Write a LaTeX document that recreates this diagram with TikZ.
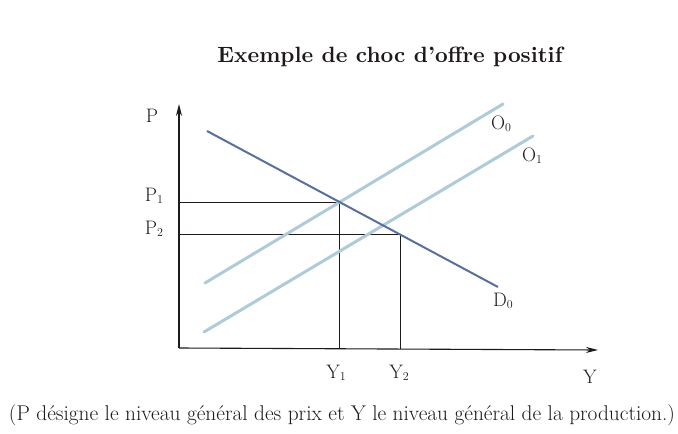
\documentclass[tikz,border=0pt]{standalone}
\usepackage{graphicx}
\usetikzlibrary{arrows.meta}
\definecolor{demand}{RGB}{88,112,155}
\definecolor{offer}{RGB}{175,203,218}
\definecolor{ink}{RGB}{30,26,26}
\newcommand\sbs[1]{\raisebox{-0.2ex}{\fontsize{12}{13}\selectfont #1}}
\begin{document}
\begin{tikzpicture}[x=1pt,y=-1pt,
  lbl/.style={inner sep=0pt,text=ink,font=\fontsize{19.5}{21}\selectfont},
  axis/.style={draw=ink,line width=1.1pt,-{Stealth[length=12pt,width=6pt]}},
  guide/.style={draw=ink,line width=0.95pt},
  dem/.style={draw=demand,line width=2pt},
  off/.style={draw=offer,line width=3pt,line cap=round}]
\useasboundingbox[fill=white] (0,0) rectangle (678,434);
% title
\node[lbl,font=\bfseries] (title) at (390,57) {\resizebox{345pt}{!}{Exemple de choc d'offre positif}};
% axes
\coordinate (o) at (179,348);
\coordinate (ptop) at (179,104);
\coordinate (yend) at (598,350);
\draw[axis] (o) -- (ptop);
\draw[axis] (o) -- (yend);
% key points
\coordinate (e1) at (339,202);
\coordinate (e2) at (400,234);
\coordinate (p1) at (179,202);
\coordinate (p2) at (179,234);
\coordinate (y1) at (339,348);
\coordinate (y2) at (400,349);
\draw[guide] (p1) -- (e1) -- (y1);
\draw[guide] (p2) -- (e2) -- (y2);
% supply curves
\coordinate (o0a) at (205,283);
\coordinate (o0b) at (503,104);
\coordinate (o1a) at (204,332);
\coordinate (o1b) at (533,136);
\draw[off] (o0a) -- (o0b);
\draw[off] (o1a) -- (o1b);
% demand
\coordinate (d0a) at (207,131);
\coordinate (d0b) at (498,287);
\draw[dem] (d0a) -- (d0b);
% labels
\node[lbl] (lP) at (152,116) {P};
\node[lbl] (lP1) at (154,196) {P\sbs{1}};
\node[lbl] (lP2) at (154,229) {P\sbs{2}};
\node[lbl] (lY1) at (336,373) {Y\sbs{1}};
\node[lbl] (lY2) at (399,373) {Y\sbs{2}};
\node[lbl] (lY) at (590,377) {Y};
\node[lbl] (lO0) at (501,124) {O\sbs{0}};
\node[lbl] (lO1) at (532,156) {O\sbs{1}};
\node[lbl] (lD0) at (503,301) {D\sbs{0}};
% caption
\node[lbl] (caption) at (342,415) {\resizebox{666pt}{!}{(P désigne le niveau général des prix et Y le niveau général de la production.)}};
\end{tikzpicture}
\end{document}
